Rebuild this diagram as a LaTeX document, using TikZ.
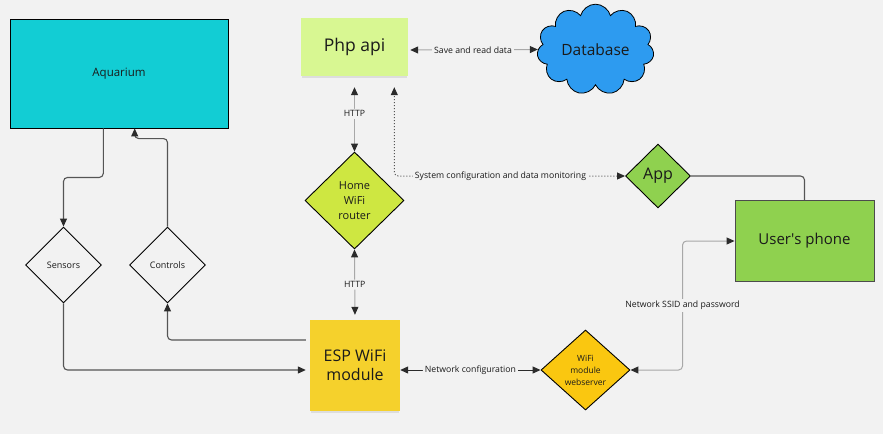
\documentclass[tikz,border=0pt]{standalone}
\usepackage{fontspec}
\setmainfont{Open Sans}
\usepackage{xcolor}
\usepackage{tikz}
\usetikzlibrary{shapes.geometric, shapes.symbols, shadows}
\usetikzlibrary{arrows.meta, positioning}

\definecolor{bgcol}{HTML}{F2F2F2}
\definecolor{aquacol}{HTML}{12CDD4}
\definecolor{phpcol}{HTML}{D8F792}
\definecolor{dbcol}{HTML}{2D9BF0}
\definecolor{routercol}{HTML}{CEE741}
\definecolor{greencol}{HTML}{8FD14F}
\definecolor{webcol}{HTML}{FAC710}
\definecolor{espcol}{HTML}{F5D12C}
\definecolor{textcol}{HTML}{1A1A1A}
\definecolor{linecol}{HTML}{555555}
\definecolor{lightcol}{HTML}{A8A8A8}
\definecolor{tipcol}{HTML}{2B2B2B}

\begin{document}
\begin{tikzpicture}[x=1pt, y=-1pt,
            box/.style={rectangle, draw=black, line width=0.9pt, text=textcol, align=center},
            sticky/.style={rectangle, text=textcol, align=center, font=\fontsize{16}{19}\selectfont,
                drop shadow={opacity=0.18, shadow xshift=0pt, shadow yshift=-3pt, shadow scale=0.98}},
            decision/.style={diamond, draw=black, line width=0.9pt, inner sep=0pt, text=textcol, align=center},
            edge/.style={draw=linecol, line width=1.1pt, rounded corners=4pt,
                -{Triangle[length=8pt, width=7pt, color=tipcol]}},
            link/.style={draw=lightcol, line width=1pt, rounded corners=4pt,
                {Triangle[length=8pt, width=7pt, color=tipcol]}-{Triangle[length=8pt, width=7pt, color=tipcol]}},
            weight/.style={font=\fontsize{8.7}{10}\selectfont, text=textcol, fill=bgcol, inner sep=2pt}
        ]

        \fill[bgcol] (0,0) rectangle (883,434);
        \useasboundingbox (0,0) rectangle (883,434);

        % Nodes (manual layout to match figure)
        \node[box, fill=aquacol, minimum width=218pt, minimum height=109pt,
              font=\fontsize{11.5}{14}\selectfont] (aquarium) at (119,73.5) {Aquarium};
        \node[sticky, fill=phpcol, minimum width=107pt, minimum height=58pt,
              font=\fontsize{17.5}{20}\selectfont] (php) at (354.5,47) {Php api};
        \node[cloud, cloud puffs=11, aspect=1.5, draw=black, line width=0.8pt, fill=dbcol, text=textcol,
              minimum width=117pt, minimum height=79pt, font=\fontsize{15.5}{19}\selectfont] (db) at (595.5,49.5) {Database};
        \node[decision, fill=routercol, minimum width=99pt, minimum height=97pt,
              font=\fontsize{11}{15}\selectfont] (router) at (354.5,200.5) {Home\\WiFi\\router};
        \node[sticky, fill=espcol, minimum width=90pt, minimum height=91pt] (esp) at (355,365.5) {ESP WiFi\\module};
        \node[decision, fill=greencol, minimum width=65pt, minimum height=64pt,
              font=\fontsize{16}{19}\selectfont] (app) at (658,176) {App};
        \node[box, fill=greencol, draw=black!70, minimum width=139pt, minimum height=81pt,
              font=\fontsize{15}{18}\selectfont] (phone) at (804.5,241) {User\textquotesingle s phone};
        \node[decision, fill=webcol, minimum width=89pt, minimum height=80pt,
              font=\fontsize{8.5}{12}\selectfont] (web) at (585.5,370) {WiFi\\module\\webserver};
        \node[decision, minimum width=76pt, minimum height=76pt,
              font=\fontsize{9}{11}\selectfont] (sensors) at (63.5,265) {Sensors};
        \node[decision, minimum width=76pt, minimum height=76pt,
              font=\fontsize{9}{11}\selectfont] (controls) at (167.5,265) {Controls};

        % Edges
        \draw[edge] ([xshift=-15.7pt]aquarium.south) -- ++(0,49) -| (sensors.north);
        \draw[edge] (controls.north) -- ++(0,-88) -| ([xshift=15.7pt]aquarium.south);
        \draw[edge, shorten >=4pt] (sensors.south) |- ([yshift=-4.5pt]esp.west);
        \draw[edge, shorten <=4pt] ([yshift=25.5pt]esp.west) -| (controls.south);

        \draw[link, shorten <=11pt] (php.south) -- node[weight] {HTTP} (router.north);
        \draw[link, shorten >=5pt] (router.south) -- node[weight] {HTTP} (esp.north);

        \draw[link, shorten <=2pt] ([yshift=-3pt]php.east) -- node[weight] {Save and read data} (db.west);
        \draw[link, draw=tipcol] ([yshift=-4.5pt]esp.east) -- node[weight] {Network configuration} (web.west);

        \draw[link, draw=linecol, dotted, shorten >=11pt] (app.west)
            -| node[weight, pos=0.27] {System configuration and data monitoring} ([xshift=39.8pt]php.south);
        \draw[draw=linecol, line width=1.1pt, rounded corners=4pt] (app.east) -| (phone.north);
        \draw[link] (web.east) -| node[weight, pos=0.75] {Network SSID and password}
            ([xshift=-52pt]phone.west) -- (phone.west);

    \end{tikzpicture}
\end{document}
